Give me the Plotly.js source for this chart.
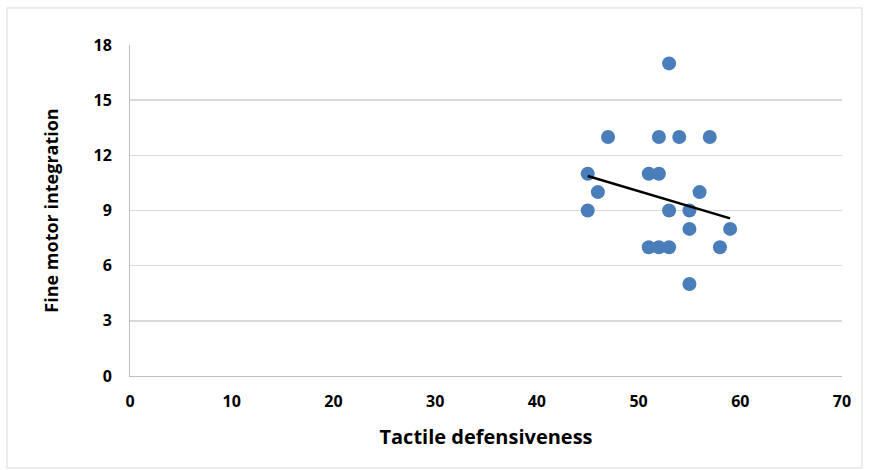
<!DOCTYPE html>
<html>
<head>
<meta charset="utf-8">
<script src="https://cdn.plot.ly/plotly-3.0.1.min.js"></script>
<style>html,body{margin:0;padding:0;background:#fff;}#chart{width:869px;height:470px;}</style>
</head>
<body>
<div id="chart"></div>
<script>
const tactile = [45, 45, 46, 47, 51, 52, 52, 54, 57, 53, 53, 55, 56, 55, 59, 51, 52, 53, 58, 55];
const fineMotor = [11, 9, 10, 13, 11, 11, 13, 13, 13, 17, 9, 9, 10, 8, 8, 7, 7, 7, 7, 5];
const trendX = [45, 59];
const trendY = [10.88, 8.57];
const xTicks = [0, 10, 20, 30, 40, 50, 60, 70];
const yTicks = [0, 3, 6, 9, 12, 15, 18];

const font = "'Open Sans', sans-serif";
const data = [
  {x: tactile, y: fineMotor, mode: 'markers', type: 'scatter',
   marker: {color: '#4a7ebb', size: 14}, hoverinfo: 'x+y'},
  {x: trendX, y: trendY, mode: 'lines', type: 'scatter',
   line: {color: '#000000', width: 2.5}}
];
const layout = {
  width: 869, height: 470,
  margin: {l: 130, r: 27, t: 45, b: 94},
  paper_bgcolor: '#ffffff', plot_bgcolor: '#ffffff',
  showlegend: false,
  font: {family: font, color: '#000'},
  xaxis: {range: [0, 70], tickvals: xTicks, ticktext: xTicks.map(String),
    showgrid: false, zeroline: false, showline: true, linecolor: '#bfbfbf', linewidth: 1,
    ticks: '', ticklen: 0, ticklabelstandoff: 11, automargin: false,
    tickfont: {family: font, size: 16, color: '#000', weight: 'bold'},
    title: {text: '<b>Tactile defensiveness</b>', font: {family: font, size: 20, color: '#000'}, standoff: 18}},
  yaxis: {range: [0, 18], tickvals: yTicks, ticktext: yTicks.map(String),
    showgrid: true, gridcolor: '#d9d9d9', gridwidth: 1.5, zeroline: false,
    showline: true, linecolor: '#bfbfbf', linewidth: 1, ticks: '', ticklabelstandoff: 14, automargin: false,
    tickfont: {family: font, size: 16, color: '#000', weight: 'bold'},
    title: {text: '<b>Fine motor integration</b>', font: {family: font, size: 18, color: '#000'}, standoff: 30}},
  shapes: [{type: 'rect', xref: 'paper', yref: 'paper',
    x0: -0.1728, x1: 1.028, y0: -0.278, y1: 1.112,
    line: {color: '#d9d9d9', width: 1}, fillcolor: 'rgba(0,0,0,0)', layer: 'below'}]
};
Plotly.newPlot('chart', data, layout, {displayModeBar: false, staticPlot: true});
</script>
</body>
</html>
